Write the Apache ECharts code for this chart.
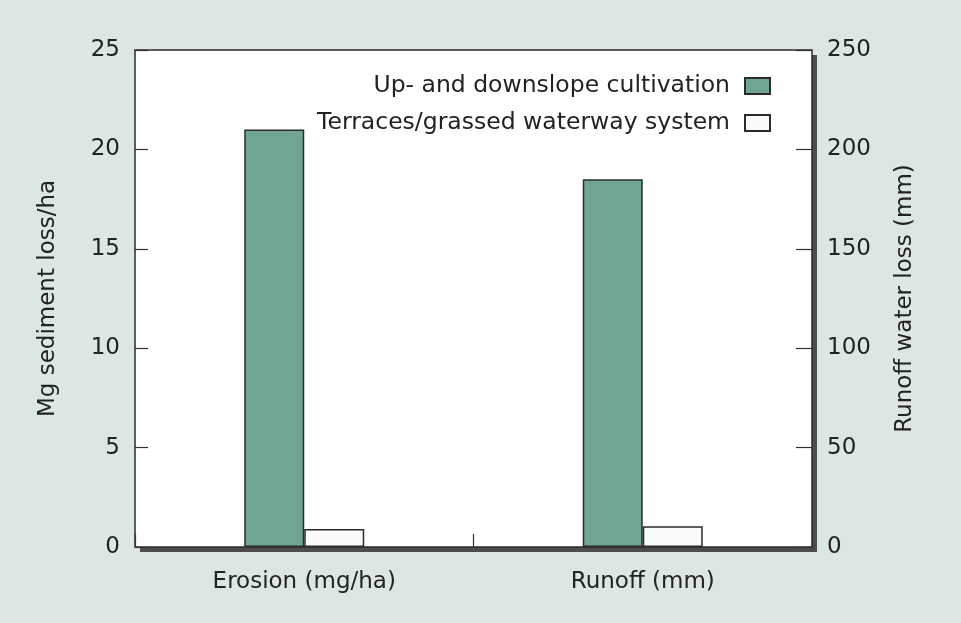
<!DOCTYPE html>
<html>
<head>
<meta charset="utf-8">
<script src="https://cdn.jsdelivr.net/npm/echarts@6/dist/echarts.min.js"></script>
<style>
html,body{margin:0;padding:0;background:#dce7e3;}
#chart{width:961px;height:623px;}
</style>
</head>
<body>
<div id="chart"></div>
<script>
// ---- data ----
var categories = ['Erosion (mg/ha)', 'Runoff (mm)'];
var seriesNames = ['Up- and downslope cultivation', 'Terraces/grassed waterway system'];
// Erosion in Mg/ha (left axis), Runoff in mm (right axis)
var cultivationErosion = 21;
var cultivationRunoff = 185;
var terracesErosion = 0.9;
var terracesRunoff = 10.5;
var leftTicks = [0, 5, 10, 15, 20, 25];
var rightTicks = [0, 50, 100, 150, 200, 250];

var FONT = 'DejaVu Sans';
var FS = 23;
var green = '#70a493';
var white = '#f9fbfa';
var edge = '#2b2b2b';

var chart = echarts.init(document.getElementById('chart'), null, {renderer: 'canvas'});

function barStyle(c) {
  return {color: c, borderColor: edge, borderWidth: 1.5};
}

var GL = 135, GT = 50, GW = 677, GH = 497;

var option = {
  backgroundColor: '#dce7e3',
  animation: false,
  textStyle: {fontFamily: FONT, color: '#222'},
  graphic: [{
    type: 'rect', z: -10, silent: true,
    shape: {x: GL + 5, y: GT + 5, width: GW, height: GH},
    style: {fill: '#4d4d4d'}
  }],
  grid: {
    left: GL, top: GT, width: GW, height: GH,
    show: true, backgroundColor: '#ffffff',
    borderColor: '#2b2b2b', borderWidth: 1.5
  },
  legend: {
    orient: 'vertical',
    right: 185, top: 69,
    align: 'right',
    itemWidth: 25, itemHeight: 16,
    itemGap: 13,
    icon: 'rect',
    textStyle: {fontFamily: FONT, fontSize: 23.5, color: '#222', padding: [0, 10, 0, 0]},
    data: seriesNames
  },
  xAxis: {
    type: 'category',
    data: categories,
    axisLine: {show: false},
    axisTick: {show: true, inside: true, length: 13, lineStyle: {color: '#333', width: 1.2}},
    axisLabel: {fontFamily: FONT, fontSize: FS, color: '#222', margin: 24}
  },
  yAxis: [{
    type: 'value', position: 'left',
    min: leftTicks[0], max: leftTicks[leftTicks.length - 1], interval: leftTicks[1] - leftTicks[0],
    name: 'Mg sediment loss/ha', nameLocation: 'middle', nameRotate: 90, nameGap: 75,
    nameTextStyle: {fontFamily: FONT, fontSize: FS, color: '#222'},
    axisLine: {show: false},
    axisTick: {show: true, inside: true, length: 13, lineStyle: {color: '#333', width: 1.2}},
    axisLabel: {fontFamily: FONT, fontSize: FS, color: '#222', margin: 15},
    splitLine: {show: false}
  }, {
    type: 'value', position: 'right',
    min: rightTicks[0], max: rightTicks[rightTicks.length - 1], interval: rightTicks[1] - rightTicks[0],
    name: 'Runoff water loss (mm)', nameLocation: 'middle', nameRotate: 90, nameGap: 82,
    nameTextStyle: {fontFamily: FONT, fontSize: FS, color: '#222'},
    axisLine: {show: false},
    axisTick: {show: true, inside: true, length: 16, lineStyle: {color: '#333', width: 1.2}},
    axisLabel: {fontFamily: FONT, fontSize: FS, color: '#222', margin: 15},
    splitLine: {show: false}
  }],
  series: [{
    name: seriesNames[0], type: 'bar', yAxisIndex: 0, stack: 'cult',
    barWidth: 60, barGap: '0%',
    itemStyle: barStyle(green),
    data: [cultivationErosion, '-']
  }, {
    name: seriesNames[0], type: 'bar', yAxisIndex: 1, stack: 'cult',
    barWidth: 60, barGap: '0%',
    itemStyle: barStyle(green),
    data: ['-', cultivationRunoff]
  }, {
    name: seriesNames[1], type: 'bar', yAxisIndex: 0, stack: 'terr',
    barWidth: 60, barGap: '0%',
    itemStyle: barStyle(white),
    data: [terracesErosion, '-']
  }, {
    name: seriesNames[1], type: 'bar', yAxisIndex: 1, stack: 'terr',
    barWidth: 60, barGap: '0%',
    itemStyle: barStyle(white),
    data: ['-', terracesRunoff]
  }]
};
chart.setOption(option);
</script>
</body>
</html>
